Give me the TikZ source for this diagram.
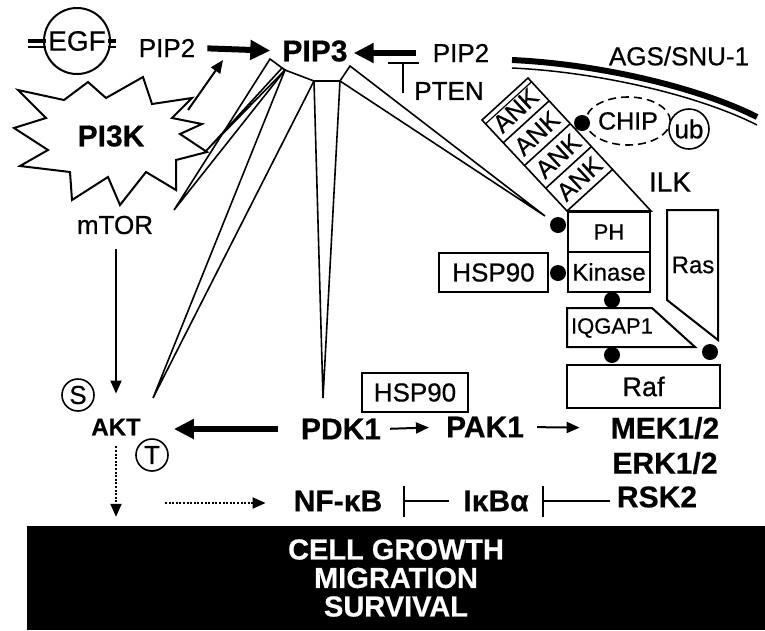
\documentclass[tikz,border=0pt]{standalone}
\usepackage{fontspec}
\setmainfont{Liberation Sans}[UprightFeatures={FakeBold=0.6},BoldFeatures={FakeBold=0.5}]
\usetikzlibrary{arrows.meta,calc,shapes.geometric}
\definecolor{inkstroke}{HTML}{000000}
\definecolor{paperfill}{HTML}{FFFFFF}
\tikzset{
  plain/.style={
    inner sep=2pt,
    font=\fontsize{26}{28}\selectfont
  },
  heavy/.style={
    inner sep=2pt,
    font=\bfseries\fontsize{30}{32}\selectfont
  },
  small/.style={
    inner sep=1pt,
    font=\fontsize{22}{24}\selectfont
  },
  box/.style={
    rectangle,
    draw=inkstroke,
    line width=2pt,
    inner sep=1pt
  },
  outline/.style={
    draw=inkstroke,
    line width=2pt,
    line join=miter
  },
  wedge/.style={
    draw=inkstroke,
    line width=1.6pt,
    line join=miter
  },
  dot/.style={
    circle,
    fill=inkstroke,
    minimum size=16pt,
    inner sep=0pt
  },
  ring/.style={
    circle,
    draw=inkstroke,
    line width=1.6pt,
    minimum size=32pt,
    inner sep=0pt,
    font=\fontsize{26}{26}\selectfont
  },
  flow/.style={
    -{Triangle[length=13pt,width=11pt]},
    draw=inkstroke,
    line width=2pt
  },
  bigflow/.style={
    -{Triangle[length=20pt,width=19pt]},
    draw=inkstroke,
    line width=6pt
  },
  dotflow/.style={
    -{Triangle[length=13pt,width=11pt]},
    draw=inkstroke,
    line width=2pt,
    dash pattern=on 2pt off 1.6pt
  },
  blocks/.style={
    -{Bar[width=31pt,line width=2pt]},
    draw=inkstroke,
    line width=2pt
  }
}

\begin{document}
\begin{tikzpicture}[x=1pt,y=-1pt]
  \useasboundingbox (0,0) rectangle (765,630);

  % Membrane.
  \draw[line width=6pt] (512,60) .. controls (600,64) and (700,88) .. (757,117);
  \draw[line width=1.5pt] (512,68) .. controls (600,72) and (700,96) .. (757,125);
  \node[plain] (ags) at (679,56) {AGS/SNU-1};

  % Receptor and lipids.
  \draw[line width=4pt] (28,41) -- (46,41) (108,41) -- (116,41);
  \draw[line width=1.5pt] (28,47) -- (46,47) (108,47) -- (116,47);
  \node[plain,circle,draw=inkstroke,line width=2pt,minimum size=66pt,inner sep=0pt,
    font=\fontsize{28}{28}\selectfont] (egf) at (77,41) {EGF};
  \node[plain] (pipL) at (167,48) {PIP2};
  \node[heavy] (pip3) at (315,51) {PIP3};
  \node[plain] (pipR) at (461,53) {PIP2};
  \node[plain] (pten) at (449,91) {PTEN};

  \draw[outline] (143,77) -- (152,104) -- (192,98) -- (172,118) -- (202,124)
    -- (180,134) -- (207,152) -- (176,160) -- (176,190) -- (146,172)
    -- (120,205) -- (108,177) -- (72,200) -- (70,172) -- (20,166)
    -- (48,150) -- (14,128) -- (46,118) -- (18,90) -- (64,100)
    -- (88,82) -- (106,98) -- cycle;
  \node[heavy] (pik) at (111,136) {PI3K};
  \node[plain] (mtor) at (115,225) {mTOR};

  % AKT branch.
  \node[heavy,font=\bfseries\fontsize{24}{26}\selectfont] (akt) at (116,427) {AKT};
  \node[ring] (ser) at (78,395) {S};
  \node[ring] (thr) at (152,455) {T};
  \node[heavy] (pdk) at (341,429) {PDK1};
  \node[heavy] (pak) at (485,427) {PAK1};
  \node[heavy] (mek) at (665,428) {MEK1/2};
  \node[heavy] (erk) at (665,463) {ERK1/2};
  \node[heavy] (rsk) at (657,497) {RSK2};
  \node[heavy] (nfkb) at (338,501) {NF-κB};
  \node[heavy] (ikba) at (496,501) {IκBα};
  \node[plain,box,minimum width=106pt,minimum height=39pt] (hspB) at (415,392.5) {HSP90};

  % ILK complex.
  \node[small,box,minimum width=82pt,minimum height=40pt] (ph) at (609,232) {PH};
  \node[small,box,minimum width=82pt,minimum height=40pt,font=\fontsize{24}{24}\selectfont] (kin) at (609,272) {Kinase};
  \node[plain,box,minimum width=109pt,minimum height=39pt] (hspA) at (493.5,272.5) {HSP90};
  \draw[outline] (567,308) -- (652,308) -- (695,347) -- (567,347) -- cycle;
  \node[small] (iqg) at (612,328) {IQGAP1};
  \draw[outline] (667,210) -- (718,210) -- (718,340) -- (667,300) -- cycle;
  \node[small,font=\fontsize{24}{24}\selectfont] (ras) at (693,265) {Ras};
  \node[plain,box,minimum width=153pt,minimum height=43pt,font=\fontsize{27}{28}\selectfont] (raf) at (643.5,386.5) {Raf};
  \node[plain,font=\fontsize{28}{28}\selectfont] (ilk) at (670,182) {ILK};

  \coordinate (ankA) at (482,120);
  \coordinate (ankB) at (528,78);
  \draw[wedge] (ankA) -- (ankB) -- (ph.north east) -- (ph.north west) -- cycle;
  \foreach \i in {1,2,3,4}
    \draw[wedge] ($(ankA)!\i/4!(ph.north west)$) -- ++($(ankB)-(ankA)$);
  \foreach \i in {0,1,2,3}
    \node[small,rotate=43,inner sep=0pt,font=\fontsize{25}{25}\selectfont] (ank\i)
      at ($(ankA)!{(\i+0.5)/4}!(ph.north west) + 0.5*(ankB) - 0.5*(ankA)$) {ANK};
  \draw[line width=1.2pt] ($(ankA)+(3.6,3.8)$) -- ($(ankB)+(3.6,3.8)$);
  \node[plain,ellipse,draw=inkstroke,line width=1.6pt,dash pattern=on 8pt off 5pt,
    minimum width=74pt,minimum height=48pt,inner sep=0pt,font=\fontsize{25}{25}\selectfont] (chip) at (628,121) {CHIP};
  \node[ring,minimum size=40pt] (ub) at (689,129) {ub};

  \node[dot] (dchip) at (582,123) {};
  \node[dot] (dph) at (558,225) {};
  \node[dot] (dhsp) at (558,273) {};
  \node[dot] (dkin) at (612,300) {};
  \node[dot] (diqg) at (612,355) {};
  \node[dot] (dras) at (710,352) {};

  % Outcome bar.
  \node[fill=inkstroke,text=paperfill,minimum width=738pt,minimum height=104pt,
    inner sep=0pt,align=center,font=\bfseries\fontsize{29}{28.5}\selectfont]
    (out) at (396,578) {CELL GROWTH\\MIGRATION\\SURVIVAL};

  % PIP3 wedges.
  \coordinate (b1) at (270,59);
  \coordinate (b2) at (285,70);
  \coordinate (b3) at (314,81);
  \coordinate (b4) at (340,81);
  \coordinate (b5) at (350,66);
  \coordinate (tipM) at (174,210);
  \coordinate (tipP) at (205,152);
  \coordinate (tipA) at (153,398);
  \coordinate (tipD) at (323,398);
  \coordinate (tipI) at (545,216);
  \draw[wedge] (b1) -- (b2) -- (tipM) -- cycle;
  \draw[wedge] ($(b2)+(-3,-2)$) -- (b2) -- (tipP) -- cycle;
  \draw[wedge] (b2) -- (b3) -- (tipA) -- cycle;
  \draw[wedge] (b3) -- (b4) -- (tipD) -- cycle;
  \draw[wedge] (b4) -- (b5) -- (tipI) -- cycle;

  % Arrows.
  \coordinate (pikout) at (188,110);
  \coordinate (pip3in) at (223,60);
  \coordinate (ptenfoot) at (403,93);
  \coordinate (ptenhead) at (403,62);
  \coordinate (dotstart) at (165,503);
  \draw[bigflow,shorten <=10pt,shorten >=10pt] (pipL.east) -- (pip3.west);
  \draw[bigflow,shorten <=15pt,shorten >=4pt] (pipR.west) -- (pip3.east |- pipR.west);
  \draw[blocks] (ptenfoot) -- (ptenhead);
  \draw[flow] (pikout) -- (pip3in);
  \draw[flow,shorten <=13pt,shorten >=23pt] (mtor.south -| akt.north) -- (akt.north);
  \draw[bigflow,shorten <=21pt,shorten >=31pt] (pdk.west) -- (pdk.west -| akt.east);
  \draw[flow,shorten <=7pt,shorten >=15pt] (pdk.east) -- (pak.west);
  \draw[flow,shorten <=11pt,shorten >=29pt] (pak.east) -- (mek.west);
  \draw[dotflow,shorten <=9pt,shorten >=9pt] (akt.south) -- (akt.south |- out.north);
  \draw[dotflow,shorten >=26pt] (dotstart) -- (dotstart -| nfkb.west);
  \draw[blocks,shorten <=12pt,shorten >=19pt] (ikba.west) -- (ikba.west -| nfkb.east);
  \draw[blocks,shorten <=5pt,shorten >=11pt] (rsk.west |- ikba.east) -- (ikba.east);
\end{tikzpicture}
\end{document}
